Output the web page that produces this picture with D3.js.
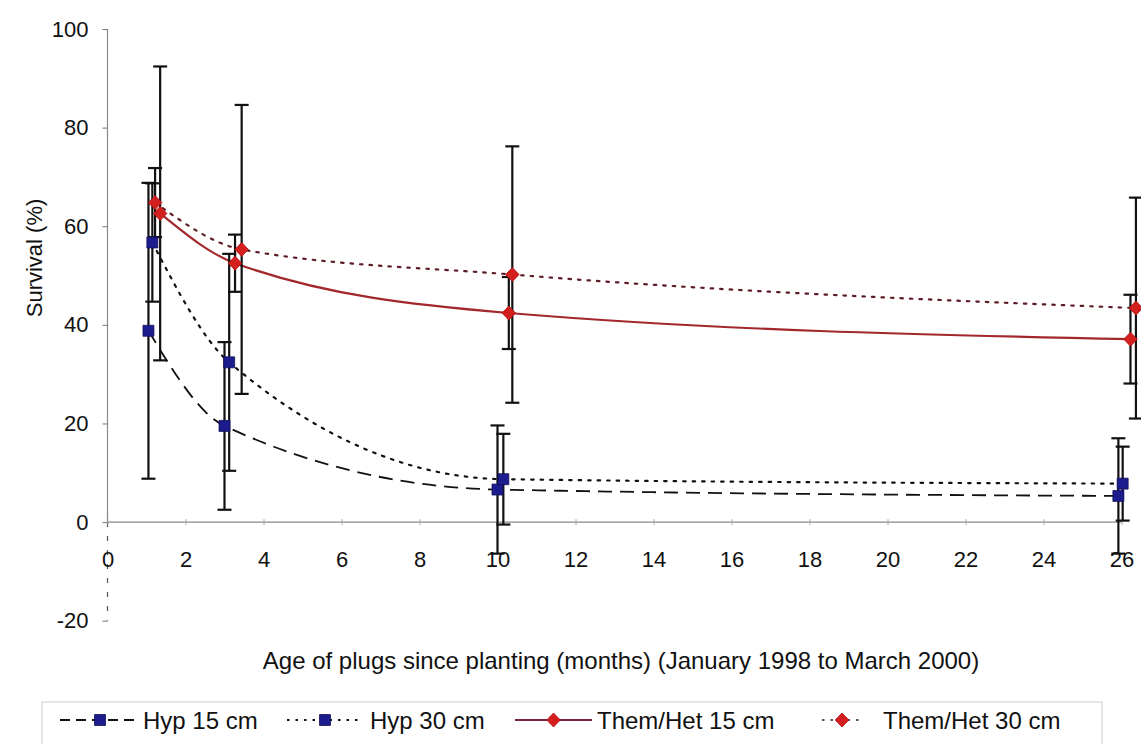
<!DOCTYPE html>
<html>
<head>
<meta charset="utf-8">
<script src="https://cdn.jsdelivr.net/npm/d3@7"></script>
<style>
  html, body { margin: 0; padding: 0; background: #fff; }
  svg { display: block; font-family: "Liberation Sans", Arial, sans-serif; }
</style>
</head>
<body>
<svg id="chart" width="1141" height="744"></svg>
<script>
// Survival of plugs by taxon and planting depth, with error bars
const seriesNames = ["Hyp 15 cm", "Hyp 30 cm", "Them/Het 15 cm", "Them/Het 30 cm"];

// survey ages (months) for each series
const hyp15Months = [1.05, 3.0, 10.0, 25.92];
const hyp30Months = [1.15, 3.12, 10.15, 26.03];
const themHet15Months = [1.35, 3.27, 10.29, 26.23];
const themHet30Months = [1.22, 3.44, 10.38, 26.37];

// mean survival (%)
const hyp15 = [38.8, 19.5, 6.6, 5.3];
const hyp30 = [56.7, 32.4, 8.7, 7.8];
const themHet15 = [62.6, 52.5, 42.4, 37.1];
const themHet30 = [64.8, 55.3, 50.2, 43.4];

// error (+/-) in survival %
const hyp15Err = [30.0, 17.0, 13.0, 11.7];
const hyp30Err = [12.0, 22.0, 9.2, 7.5];
const themHet15Err = [29.8, 5.8, 7.3, 9.0];
const themHet30Err = [7.0, 29.3, 26.0, 22.4];

const xTicks = [0, 2, 4, 6, 8, 10, 12, 14, 16, 18, 20, 22, 24, 26];
const yTicks = [-20, 0, 20, 40, 60, 80, 100];

const xTitle = "Age of plugs since planting (months) (January 1998 to March 2000)";
const yTitle = "Survival (%)";

const svg = d3.select("#chart");

const x = d3.scaleLinear().domain([0, 26]).range([107.5, 1121.5]);
const y = d3.scaleLinear().domain([-20, 100]).range([620.7, 29]);

const NAVY = "#1c1c8e";
const RED = "#d41f1f";

const styles = [
  { stroke: "#111", dash: "14,8", width: 1.8, marker: "square", legendStroke: "#111" },
  { stroke: "#111", dash: "2.5,7", width: 2.2, marker: "square", legendStroke: "#111" },
  { stroke: "#a3282c", dash: null, width: 2.2, marker: "diamond", legendStroke: "#7a2440" },
  { stroke: "#5e1c24", dash: "2.5,7", width: 2.2, marker: "diamond", legendStroke: "#555" }
];

const series = [
  { name: seriesNames[0], months: hyp15Months, values: hyp15, err: hyp15Err },
  { name: seriesNames[1], months: hyp30Months, values: hyp30, err: hyp30Err },
  { name: seriesNames[2], months: themHet15Months, values: themHet15, err: themHet15Err },
  { name: seriesNames[3], months: themHet30Months, values: themHet30, err: themHet30Err }
].map((s, i) => ({
  ...s,
  style: styles[i],
  points: s.months.map((m, j) => ({ m, v: s.values[j], e: s.err[j] }))
}));

const plainNumber = d => String(d);

// ---- axes ----
// y axis line: solid above zero, broken below
svg.append("line")
  .attr("x1", x(0)).attr("x2", x(0))
  .attr("y1", y(100)).attr("y2", y(0))
  .attr("stroke", "#8a8a8a").attr("stroke-width", 1.2);
svg.append("line")
  .attr("x1", x(0)).attr("x2", x(0))
  .attr("y1", y(0)).attr("y2", y(-20))
  .attr("stroke", "#555").attr("stroke-width", 1.2)
  .attr("stroke-dasharray", "5,9");

const yAxis = svg.append("g")
  .attr("transform", `translate(${x(0)},0)`)
  .call(d3.axisLeft(y).tickValues(yTicks).tickSize(5).tickPadding(14).tickFormat(plainNumber));
yAxis.select(".domain").remove();
yAxis.selectAll(".tick line").attr("stroke", "#777");
yAxis.selectAll(".tick text").attr("font-size", 22).attr("fill", "#111")
  .attr("font-family", "Liberation Sans, Arial, sans-serif");

// x axis along zero
svg.append("line")
  .attr("x1", x(0)).attr("x2", x(26))
  .attr("y1", y(0)).attr("y2", y(0))
  .attr("stroke", "#8a8a8a").attr("stroke-width", 1.2);

const xAxis = svg.append("g")
  .attr("transform", `translate(0,${y(0)})`)
  .call(d3.axisBottom(x).tickValues(xTicks).tickSize(3).tickPadding(26).tickFormat(plainNumber));
xAxis.select(".domain").remove();
xAxis.selectAll(".tick line").attr("stroke", "#aaa").attr("y1", -3);
xAxis.selectAll(".tick text").attr("font-size", 22).attr("fill", "#111")
  .attr("font-family", "Liberation Sans, Arial, sans-serif");

// axis titles
svg.append("text")
  .attr("x", 621).attr("y", 669)
  .attr("text-anchor", "middle")
  .attr("font-size", 24).attr("fill", "#111")
  .text(xTitle);

svg.append("text")
  .attr("transform", "translate(42,258) rotate(-90)")
  .attr("text-anchor", "middle")
  .attr("font-size", 22).attr("fill", "#111")
  .text(yTitle);

// ---- smoothed series lines ----
const line = d3.line()
  .x(d => x(d.m))
  .y(d => y(d.v))
  .curve(d3.curveMonotoneX);

svg.append("g").selectAll("path")
  .data(series)
  .join("path")
  .attr("d", s => line(s.points))
  .attr("fill", "none")
  .attr("stroke", s => s.style.stroke)
  .attr("stroke-width", s => s.style.width)
  .attr("stroke-dasharray", s => s.style.dash)
  .attr("stroke-linecap", s => s.style.dash && s.style.dash.startsWith("2.5") ? "round" : "butt");

// ---- error bars ----
const cap = 7;
const bars = svg.append("g")
  .attr("stroke", "#111").attr("stroke-width", 2.2).attr("fill", "none");
series.forEach(s => {
  s.points.forEach(p => {
    const g = bars.append("g");
    const cx = x(p.m);
    g.append("line").attr("x1", cx).attr("x2", cx)
      .attr("y1", y(p.v + p.e)).attr("y2", y(p.v - p.e));
    g.append("line").attr("x1", cx - cap).attr("x2", cx + cap)
      .attr("y1", y(p.v + p.e)).attr("y2", y(p.v + p.e));
    g.append("line").attr("x1", cx - cap).attr("x2", cx + cap)
      .attr("y1", y(p.v - p.e)).attr("y2", y(p.v - p.e));
  });
});

// ---- markers ----
const squarePath = d3.symbol().type(d3.symbolSquare).size(120)();
const diamondPath = "M0,-7L6.8,0L0,7L-6.8,0Z";

function drawMarker(g, type, cx, cy) {
  g.append("path")
    .attr("d", type === "square" ? squarePath : diamondPath)
    .attr("transform", `translate(${cx},${cy})`)
    .attr("fill", type === "square" ? NAVY : RED)
    .attr("stroke", type === "square" ? "#10105a" : "#b01010")
    .attr("stroke-width", 0.8);
}

const markers = svg.append("g");
series.forEach(s => {
  s.points.forEach(p => drawMarker(markers, s.style.marker, x(p.m), y(p.v)));
});

// ---- legend ----
const legend = svg.append("g");
legend.append("rect")
  .attr("x", 42).attr("y", 702).attr("width", 1060).attr("height", 60)
  .attr("fill", "none").attr("stroke", "#d4d4d4").attr("stroke-width", 1.2);

const legendItems = [
  { x0: 60, x1: 140, tx: 143 },
  { x0: 287, x1: 363, tx: 370 },
  { x0: 515, x1: 592, tx: 597 },
  { x0: 822, x1: 862, tx: 883 }
];
const ly = 720;
series.forEach((s, i) => {
  const it = legendItems[i];
  legend.append("line")
    .attr("x1", it.x0).attr("x2", it.x1).attr("y1", ly).attr("y2", ly)
    .attr("stroke", s.style.legendStroke)
    .attr("stroke-width", s.style.width)
    .attr("stroke-dasharray", s.style.dash ? (s.style.dash.startsWith("2.5") ? "2.5,6" : "10,6") : null);
  drawMarker(legend, s.style.marker, (it.x0 + it.x1) / 2, ly);
  legend.append("text")
    .attr("x", it.tx).attr("y", ly + 8.5)
    .attr("font-size", 24).attr("fill", "#111")
    .text(s.name);
});
</script>
</body>
</html>
